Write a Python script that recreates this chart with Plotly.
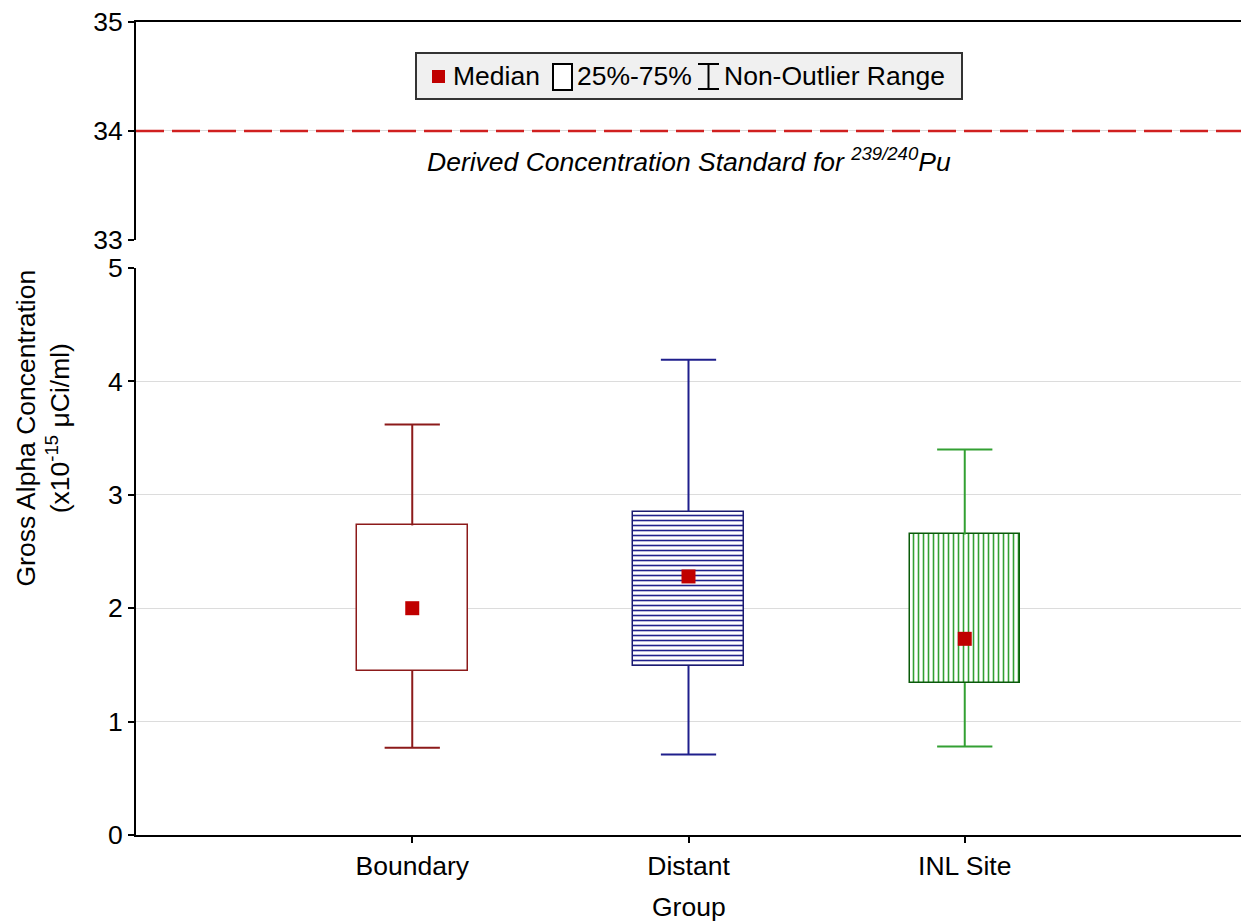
import plotly.graph_objects as go

# ---- data ----
groups = ["Boundary", "Distant", "INL Site"]
whisker_low = [0.77, 0.71, 0.78]
q1 = [1.45, 1.49, 1.34]
median = [2.00, 2.28, 1.73]
q3 = [2.73, 2.85, 2.65]
whisker_high = [3.62, 4.19, 3.40]
dcs_value = 34
bottom_ticks = [0, 1, 2, 3, 4, 5]
top_ticks = [33, 34, 35]

# ---- styles ----
FONT = "Liberation Sans, Arial, sans-serif"
FS = 26.5
line_colors = ["#8c1a1a", "#1f1f8c", "#33a033"]
border_colors = ["#8c1a1a", "#1a1a70", "#0a5a0a"]
pattern_shapes = ["", "-", "|"]
pattern_colors = ["#8c1a1a", "#1f1f8c", "#33a033"]
box_width = 0.4
cap_half = 0.1

W, H = 1241, 924
ML, MR, MT, MB = 136, 0, 22, 89
PW, PH = W - ML - MR, H - MT - MB


def px_x(p):
    return (p - ML) / PW


def px_y(p):
    return (H - MB - p) / PH


xpos = list(range(len(groups)))

fig = go.Figure()

# boxes (25%-75%)
for i, g in enumerate(groups):
    fig.add_trace(go.Bar(
        x=[xpos[i]], y=[q3[i] - q1[i]], base=[q1[i]], width=box_width,
        marker=dict(color="white",
                    line=dict(color=border_colors[i], width=1.5),
                    pattern=dict(shape=pattern_shapes[i], fgcolor=pattern_colors[i],
                                 bgcolor="white", size=5, solidity=0.32, fillmode="replace")),
        showlegend=False, hoverinfo="skip", xaxis="x", yaxis="y"))

# whiskers
for i, g in enumerate(groups):
    xi = xpos[i]
    wx = [xi, xi, None, xi, xi, None, xi - cap_half, xi + cap_half, None, xi - cap_half, xi + cap_half]
    wy = [q3[i], whisker_high[i], None, q1[i], whisker_low[i], None,
          whisker_high[i], whisker_high[i], None, whisker_low[i], whisker_low[i]]
    fig.add_trace(go.Scatter(x=wx, y=wy, mode="lines",
                             line=dict(color=line_colors[i], width=2),
                             showlegend=False, hoverinfo="skip", xaxis="x", yaxis="y"))

# medians
fig.add_trace(go.Scatter(x=xpos, y=median, mode="markers",
                         marker=dict(symbol="square", size=14, color="#c00000", line=dict(width=0)),
                         showlegend=False, xaxis="x", yaxis="y"))

# invisible helpers so the end-cap tick axes render
fig.add_trace(go.Scatter(x=[None], y=[None], xaxis="x", yaxis="y3", showlegend=False, hoverinfo="skip"))
fig.add_trace(go.Scatter(x=[None], y=[None], xaxis="x2", yaxis="y4", showlegend=False, hoverinfo="skip"))

# DCS dashed line in top panel
fig.add_shape(type="line", xref="x2 domain", yref="y2", x0=0, x1=1, y0=dcs_value, y1=dcs_value,
              line=dict(color="#d02020", width=2.5, dash="28px,8px"))

# legend decoration (box + icons)
fig.add_shape(type="rect", xref="paper", yref="paper",
              x0=px_x(416), x1=px_x(962), y0=px_y(99), y1=px_y(53),
              fillcolor="#f0f0f0", line=dict(color="#333333", width=2), layer="above")
fig.add_shape(type="rect", xref="paper", yref="paper",
              x0=px_x(432), x1=px_x(445), y0=px_y(83), y1=px_y(70),
              fillcolor="#c00000", line=dict(width=0), layer="above")
fig.add_shape(type="rect", xref="paper", yref="paper",
              x0=px_x(553), x1=px_x(572), y0=px_y(90), y1=px_y(64),
              fillcolor="white", line=dict(color="black", width=2), layer="above")
for (xa, ya, xb, yb) in [(708.5, 64, 708.5, 89), (698, 64, 719, 64), (698, 89, 719, 89)]:
    fig.add_shape(type="line", xref="paper", yref="paper",
                  x0=px_x(xa), x1=px_x(xb), y0=px_y(ya), y1=px_y(yb),
                  line=dict(color="black", width=2), layer="above")

axis_common = dict(showline=True, linecolor="black", linewidth=2, zeroline=False,
                   tickfont=dict(family=FONT, size=FS, color="black"))

fig.update_layout(
    width=W, height=H, autosize=False,
    margin=dict(l=ML, r=MR, t=MT, b=MB, autoexpand=False),
    paper_bgcolor="white", plot_bgcolor="white",
    font=dict(family=FONT, size=FS, color="black"),
    xaxis=dict(domain=[0, 1], range=[-1, 3], tickvals=xpos, ticktext=groups,
               ticks="outside", ticklen=6, tickwidth=1.5, tickcolor="black",
               showgrid=False, anchor="y", **axis_common),
    yaxis=dict(domain=[0, 0.6974], range=[0, 5], tickvals=bottom_ticks,
               ticks="outside", ticklen=6, tickwidth=2, tickcolor="black",
               showgrid=True, gridcolor="#dcdcdc", gridwidth=1, anchor="x", **axis_common),
    yaxis3=dict(overlaying="y", range=[0, 5], tickvals=[bottom_ticks[-1]], ticks="inside",
                ticklen=7, tickwidth=2, tickcolor="black", showticklabels=False,
                showline=False, showgrid=False, zeroline=False, anchor="x"),
    xaxis2=dict(domain=[0, 1], range=[-1, 3], anchor="y2", side="top",
                showticklabels=False, ticks="", showgrid=False, **axis_common),
    yaxis2=dict(domain=[0.7319, 1], range=[33, 35], tickvals=top_ticks,
                ticks="outside", ticklen=6, tickwidth=2, tickcolor="black",
                showgrid=True, gridcolor="#dcdcdc", gridwidth=1, anchor="x2", **axis_common),
    yaxis4=dict(overlaying="y2", range=[33, 35], tickvals=[top_ticks[0]], ticks="inside",
                ticklen=7, tickwidth=2, tickcolor="black", showticklabels=False,
                showline=False, showgrid=False, zeroline=False, anchor="x2"),
    bargap=0,
)

ly = px_y(76)
annotations = [
    # legend texts
    dict(xref="paper", yref="paper", x=px_x(451), y=ly, xanchor="left", yanchor="middle",
         text="Median", showarrow=False, font=dict(family=FONT, size=FS, color="black")),
    dict(xref="paper", yref="paper", x=px_x(575), y=ly, xanchor="left", yanchor="middle",
         text="25%-75%", showarrow=False, font=dict(family=FONT, size=FS, color="black")),
    dict(xref="paper", yref="paper", x=px_x(722), y=ly, xanchor="left", yanchor="middle",
         text="Non-Outlier Range", showarrow=False, font=dict(family=FONT, size=FS, color="black")),
    # DCS label
    dict(xref="x2", yref="y2", x=xpos[1], y=33.73, xanchor="center", yanchor="middle",
         text="<i>Derived Concentration Standard for <sup>239/240</sup>Pu</i>",
         showarrow=False, font=dict(family=FONT, size=FS, color="black")),
    # y title
    dict(xref="paper", yref="paper", x=px_x(42), y=0.5, xanchor="center", yanchor="middle",
         textangle=-90,
         text="Gross Alpha Concentration<br>(x10<sup>-15</sup> μCi/ml)",
         showarrow=False, font=dict(family=FONT, size=FS, color="black")),
    # x title
    dict(xref="paper", yref="paper", x=0.5, y=px_y(907), xanchor="center", yanchor="middle",
         text="Group", showarrow=False, font=dict(family=FONT, size=FS, color="black")),
]
fig.update_layout(annotations=annotations)

fig.write_html("out.html", config={"displayModeBar": False},
               post_script="document.body.style.margin='0';document.body.style.overflow='hidden';")
